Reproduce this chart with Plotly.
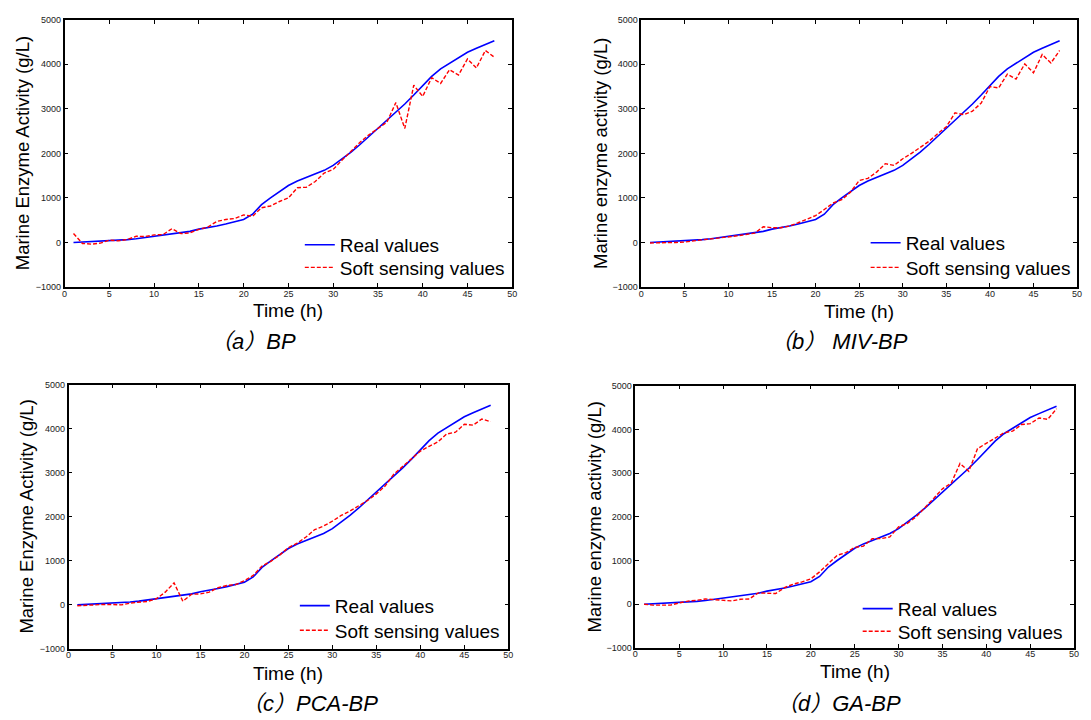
import plotly.graph_objects as go

W, H = 1091, 720

time_h = list(range(1, 49))

real_values = [0, 10, 15, 25, 37, 50, 65, 85, 110, 140, 160, 185, 215, 250, 300, 330, 370, 415, 460, 515,
               635, 850, 1000, 1150, 1280, 1380, 1460, 1530, 1620, 1730, 1870, 2030, 2200, 2380, 2560, 2740,
               2920, 3110, 3310, 3520, 3730, 3900, 4030, 4150, 4270, 4360, 4450, 4530]

soft_bp = [200, -22, -37, -15, 52, 37, 66, 140, 133, 170, 177, 310, 200, 214, 295, 347, 472, 517, 539, 620,
           590, 780, 820, 920, 1000, 1230, 1240, 1370, 1560, 1640, 1850, 2050, 2250, 2420, 2560, 2700,
           3140, 2560, 3530, 3280, 3700, 3570, 3880, 3760, 4120, 3920, 4310, 4160]

soft_miv_bp = [-10, -10, 0, 0, 10, 40, 60, 80, 100, 130, 150, 180, 210, 354, 332, 332, 369, 443, 517, 605,
               740, 886, 960, 1130, 1390, 1440, 1580, 1770, 1730, 1880, 2000, 2130, 2270, 2440, 2600, 2910,
               2870, 2950, 3130, 3500, 3470, 3780, 3670, 4010, 3810, 4220, 4030, 4310]

soft_pca_bp = [-20, -10, 10, 10, 10, 0, 40, 60, 80, 140, 290, 500, 82, 240, 250, 290, 390, 440, 460, 550,
               670, 880, 990, 1130, 1300, 1400, 1540, 1710, 1790, 1900, 2030, 2130, 2250, 2370, 2520, 2700,
               2970, 3150, 3330, 3490, 3600, 3700, 3880, 3920, 4100, 4080, 4220, 4160]

soft_ga_bp = [0, -20, -20, -20, 30, 70, 90, 120, 105, 90, 75, 115, 120, 260, 260, 245, 380, 460, 510, 580,
              740, 930, 1120, 1180, 1300, 1330, 1500, 1500, 1540, 1770, 1850, 2000, 2200, 2420, 2640, 2770,
              3220, 3040, 3560, 3680, 3800, 3920, 3960, 4110, 4130, 4260, 4230, 4470]

captions = ["（a）BP", "（b） MIV-BP", "（c）PCA-BP", "（d）GA-BP"]
y_titles = ["Marine Enzyme Activity (g/L)", "Marine enzyme activity (g/L)",
            "Marine Enzyme Activity (g/L)", "Marine enzyme activity (g/L)"]
x_title = "Time (h)"
series_names = ["Real values", "Soft sensing values"]
soft_all = [soft_bp, soft_miv_bp, soft_pca_bp, soft_ga_bp]

# pixel layout of each panel: left, right, top, bottom
panels = [
    (62, 513, 15, 286),
    (643, 1082, 15, 286),
    (66, 509, 385, 653),
    (637, 1079, 386, 652),
]
# y-title x center, x-title y center, caption (x, y), legend left, legend row centers
ytitle_x = [20, 602, 24, 596]
xtitle_y = [310, 311, 678, 676]
caption_pos = [(252, 341), (842, 341), (309, 708), (842, 708)]
legend_left = [299, 869, 294, 861]
legend_rows = [(245, 268), (243, 268), (611, 636), (614, 637)]
LEG_OFF = 21

FONT = "Liberation Sans, Arial, Noto Sans CJK SC, sans-serif"

fig = go.Figure()
annotations = []
layout_upd = {}

for i in range(4):
    l, r, t, b = panels[i]
    suffix = "" if i == 0 else str(i + 1)
    xa = "x" + suffix
    ya = "y" + suffix
    leg_a = "legend" + ("" if i == 0 else str(2 * i + 1))
    leg_b = "legend" + str(2 * i + 2)
    fig.add_trace(go.Scatter(x=time_h, y=real_values, mode="lines", name=series_names[0],
                             line=dict(color="#0000ff", width=1.6), xaxis=xa, yaxis=ya, legend=leg_a))
    fig.add_trace(go.Scatter(x=time_h, y=soft_all[i], mode="lines", name=series_names[1],
                             line=dict(color="#ff0000", width=1.4, dash="4px,2px"),
                             xaxis=xa, yaxis=ya, legend=leg_b))
    axis_common = dict(showline=True, linewidth=1.5, linecolor="black", mirror="allticks",
                       ticks="inside", ticklen=4, tickwidth=1, tickcolor="black",
                       showgrid=False, zeroline=False,
                       tickfont=dict(family=FONT, size=9, color="#222"))
    layout_upd["xaxis" + suffix] = dict(domain=[l / W, r / W], range=[0, 50], dtick=5, tick0=0,
                                        anchor=ya, ticklabelstandoff=-3, **axis_common)
    layout_upd["yaxis" + suffix] = dict(domain=[1 - b / H, 1 - t / H], range=[-1000, 5000], dtick=1000,
                                        tick0=0, anchor=xa, **axis_common)
    for leg, row in ((leg_a, legend_rows[i][0]), (leg_b, legend_rows[i][1])):
        layout_upd[leg] = dict(x=legend_left[i] / W, y=1 - (row - LEG_OFF) / H,
                               xanchor="left", yanchor="top", bgcolor="rgba(0,0,0,0)",
                               font=dict(family=FONT, size=19, color="black"))
    annotations.append(dict(text=x_title, xref="paper", yref="paper", x=(l + r) / 2 / W,
                            y=1 - xtitle_y[i] / H, showarrow=False, xanchor="center", yanchor="middle",
                            font=dict(family=FONT, size=19, color="black")))
    annotations.append(dict(text=y_titles[i], xref="paper", yref="paper", x=ytitle_x[i] / W,
                            y=1 - (t + b) / 2 / H, showarrow=False, textangle=-90,
                            xanchor="center", yanchor="middle",
                            font=dict(family=FONT, size=18.5, color="black")))
    annotations.append(dict(text="<i>" + captions[i] + "</i>", xref="paper", yref="paper",
                            x=caption_pos[i][0] / W, y=1 - caption_pos[i][1] / H, showarrow=False,
                            xanchor="center", yanchor="middle",
                            font=dict(family=FONT, size=22, color="black")))

fig.update_layout(width=W, height=H, margin=dict(l=0, r=0, t=0, b=0),
                  paper_bgcolor="white", plot_bgcolor="white",
                  annotations=annotations, showlegend=True, **layout_upd)

fig.write_html("out.html", config={"displayModeBar": False},
               post_script="document.body.style.margin='0';document.body.style.overflow='hidden';")
